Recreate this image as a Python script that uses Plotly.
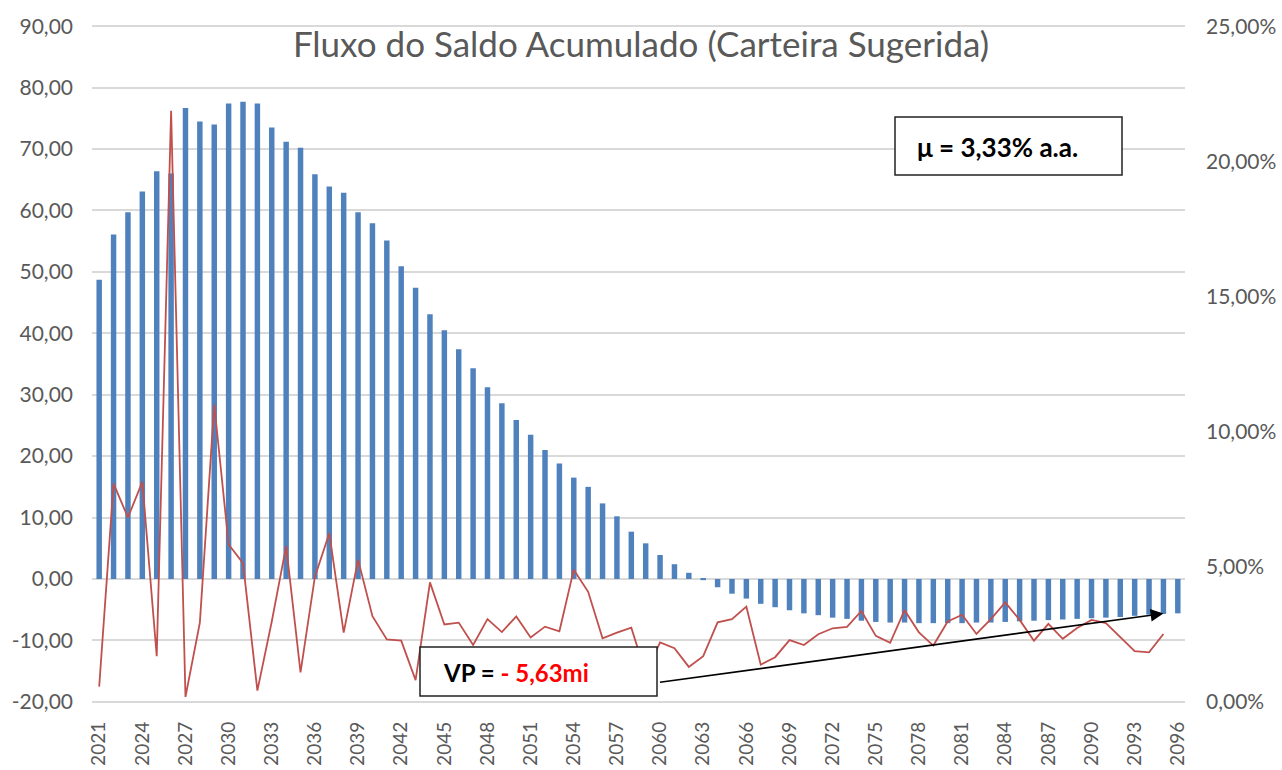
import plotly.graph_objects as go

# dados
anos = [str(a) for a in range(2021, 2097)]

saldo = [48.7, 56.1, 59.7, 63.1, 66.4, 66.0, 76.7, 74.5, 74.0, 77.4,
         77.7, 77.4, 73.5, 71.2, 70.2, 65.9, 63.9, 62.9, 59.7, 57.9,
         55.1, 50.9, 47.4, 43.1, 40.5, 37.4, 34.3, 31.2, 28.6, 25.9,
         23.5, 21.0, 18.8, 16.5, 15.0, 12.3, 10.2, 7.7, 5.8, 3.9,
         2.4, 1.0, -0.2, -1.35, -2.4, -3.2, -4.05, -4.6, -5.1, -5.6,
         -5.9, -6.3, -6.5, -6.8, -7.0, -7.1, -7.1, -7.2, -7.2, -7.2,
         -7.2, -7.1, -7.1, -7.0, -6.9, -6.8, -6.7, -6.6, -6.5, -6.4,
         -6.3, -6.2, -6.0, -5.8, -5.7, -5.6]

# rentabilidade anual (%), ultimo ano sem valor
rentab = [0.56, 8.07, 6.82, 8.14, 1.69, 21.87, 0.18, 2.93, 11.0, 5.82,
          5.13, 0.41, 2.97, 5.76, 1.09, 4.63, 6.24, 2.56, 5.26, 3.17,
          2.31, 2.26, 0.80, 4.42, 2.86, 2.93, 2.10, 3.06, 2.58, 3.16,
          2.38, 2.78, 2.61, 4.89, 4.07, 2.35, 2.56, 2.74, 1.05, 2.20,
          1.98, 1.29, 1.69, 2.94, 3.06, 3.52, 1.37, 1.65, 2.28, 2.10,
          2.50, 2.72, 2.77, 3.36, 2.44, 2.18, 3.39, 2.57, 2.08, 2.97,
          3.22, 2.51, 3.06, 3.68, 3.03, 2.26, 2.88, 2.33, 2.73, 3.03,
          2.91, 2.38, 1.87, 1.83, 2.51, None]
rentab = [None if r is None else r / 100 for r in rentab]

ticks_saldo = list(range(-20, 91, 10))
ticks_rentab = [0, 0.05, 0.10, 0.15, 0.20, 0.25]

titulo = "Fluxo do Saldo Acumulado (Carteira Sugerida)"
vp = -5.63
fonte = "Lato"
cinza = "#595959"

# pequena folga para as linhas de grade dos extremos aparecerem
folga = 0.2
r1 = [-20 - folga, 90 + folga]
r2 = [(v + 20) / 110 * 0.25 for v in r1]

fig = go.Figure()
fig.add_trace(go.Bar(x=anos, y=saldo, marker_color="#4f81bd",
                     marker_line_width=0, yaxis="y", name="Saldo"))
fig.add_trace(go.Scatter(x=anos, y=rentab, mode="lines", yaxis="y2",
                         line=dict(color="#c0504d", width=1.8),
                         connectgaps=False, name="Rentabilidade"))

fig.update_layout(
    width=1282, height=770,
    margin=dict(l=92, r=97, t=25, b=67),
    paper_bgcolor="white", plot_bgcolor="white",
    showlegend=False,
    bargap=0.62,
    font=dict(family=fonte, color=cinza),
    title=dict(text=titulo, x=0.5, xref="container", y=1 - 45 / 770,
               yref="container", yanchor="middle", xanchor="center",
               font=dict(family=fonte, size=35, color=cinza)),
    xaxis=dict(type="category", range=[-0.5, len(anos) - 0.5],
               tickangle=-90, tickvals=anos[::3], automargin=False,
               tickfont=dict(size=19, color=cinza), showgrid=False,
               ticks="", ticklabelstandoff=14, showline=False),
    yaxis=dict(range=r1, tickvals=ticks_saldo, automargin=False,
               ticktext=[f"{v:.2f}".replace(".", ",") for v in ticks_saldo],
               tickfont=dict(size=21, color=cinza), showgrid=True,
               gridcolor="#d9d9d9", gridwidth=1.6, zeroline=False,
               ticks="", ticklabelstandoff=18),
    yaxis2=dict(range=r2, tickvals=ticks_rentab, automargin=False,
                ticktext=[f"{v * 100:.2f}%".replace(".", ",") for v in ticks_rentab],
                overlaying="y", side="right", showgrid=False,
                zeroline=False, tickfont=dict(size=21, color=cinza),
                ticks="", ticklabelstandoff=20),
)

def px(x):
    return (x - 92) / 1093

def py(y):
    return (703 - y) / 678

# caixas de texto
fig.add_shape(type="rect", xref="paper", yref="paper",
              x0=px(895), x1=px(1122), y0=py(175), y1=py(117),
              fillcolor="white", line=dict(color="#222222", width=1.5),
              layer="above")
fig.add_shape(type="rect", xref="paper", yref="paper",
              x0=px(420), x1=px(657), y0=py(696), y1=py(647),
              fillcolor="white", line=dict(color="#222222", width=1.5),
              layer="above")

fig.add_annotation(xref="paper", yref="paper", x=px(915), y=py(147),
                   xanchor="left", yanchor="middle", showarrow=False,
                   text="<b>μ = 3,33% a.a.</b>",
                   font=dict(family=fonte, size=26, color="black"))
fig.add_annotation(xref="paper", yref="paper", x=px(441), y=py(672),
                   xanchor="left", yanchor="middle", showarrow=False,
                   text="<b>VP = <span style='color:#ff0000'>- 5,63mi</span></b>",
                   font=dict(family=fonte, size=24, color="black"))

# seta do VP ate o fim do fluxo (x pelo indice da categoria)
fig.add_annotation(x=len(anos) - 2, y=vp, xref="x", yref="y", text="",
                   showarrow=True, arrowhead=2, arrowsize=1.6,
                   arrowwidth=1.6, arrowcolor="black",
                   ax=-505, ay=69, standoff=0)

# pagina sem margem para o grafico ocupar a janela toda
fig.write_html("out.html", config={"displayModeBar": False},
               post_script="document.body.style.margin='0';")
